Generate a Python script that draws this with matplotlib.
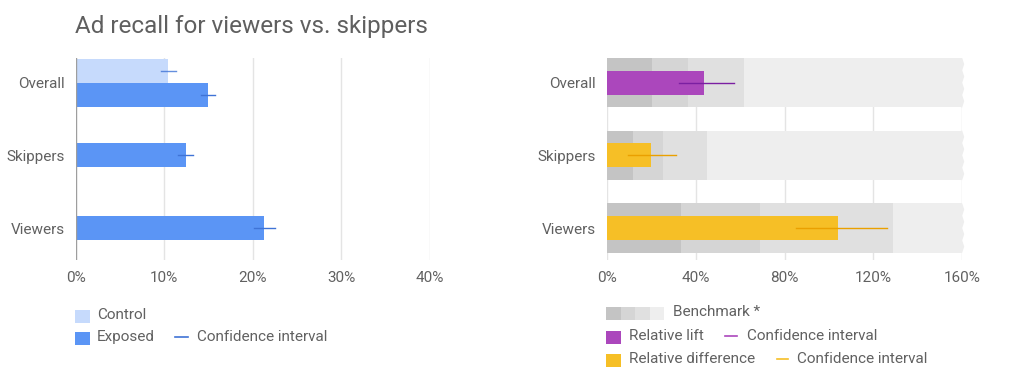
import matplotlib
matplotlib.use("Agg")
import matplotlib.pyplot as plt
from matplotlib.patches import Rectangle, Polygon
from matplotlib.lines import Line2D

plt.rcParams['font.family'] = ['Roboto', 'DejaVu Sans']

# data
categories = ["Overall", "Skippers", "Viewers"]

control = [10.4, None, None]
control_ci = [(9.6, 11.3), None, None]
exposed = [14.9, 12.45, 21.3]
exposed_ci = [(14.2, 15.7), (11.6, 13.2), (20.1, 22.5)]

# benchmark band edges (%) per category, darkest to lightest
bench = [
    [20.3, 36.6, 61.9, 160],
    [11.9, 25.4, 45.2, 160],
    [33.3, 69.0, 128.7, 160],
]
rel_value = [43.8, 19.8, 104.3]
rel_ci = [(32.6, 57.3), (9.3, 31.0), (85.3, 126.0)]
rel_kind = ["lift", "diff", "diff"]

left_ticks = [0, 10, 20, 30, 40]
right_ticks = [0, 40, 80, 120, 160]

# style
W, H = 1023, 385
TEXT = "#616161"
C_CONTROL = "#c6dafc"
C_EXPOSED = "#5b95f5"
C_CI_BLUE = "#3f73d6"
C_LIFT = "#ab47bc"
C_LIFT_CI = "#7b1fa2"
C_DIFF = "#f6bf26"
C_DIFF_CI = "#eaa000"
BAND_COLORS = ["#c4c4c4", "#d5d5d5", "#e0e0e0", "#eeeeee"]
GRID = "#e4e4e4"
FS = 11


def ax_rect(x0, x1, y0, y1):
    return [x0 / W, 1 - y1 / H, (x1 - x0) / W, (y1 - y0) / H]


fig = plt.figure(figsize=(W / 100, H / 100), dpi=100)

ylim = (2.44, -0.34)
ypos = list(range(len(categories)))

# ---- left chart
ax1 = fig.add_axes(ax_rect(75.7, 430, 58, 260))
for t in left_ticks[1:]:
    ax1.axvline(t, color=GRID, lw=1, zorder=0)
ax1.axvline(0, color="#9e9e9e", lw=1, zorder=3)

bh = 0.33
for i, y in enumerate(ypos):
    if control[i] is not None:
        yc, ye = y - bh / 2, y + bh / 2
        ax1.barh(yc, control[i], height=bh, color=C_CONTROL, zorder=2)
        lo, hi = control_ci[i]
        ax1.plot([lo, hi], [yc, yc], color=C_CI_BLUE, lw=1, zorder=4, alpha=0.8)
    else:
        ye = y
    ax1.barh(ye, exposed[i], height=bh, color=C_EXPOSED, zorder=2)
    lo, hi = exposed_ci[i]
    ax1.plot([lo, hi], [ye, ye], color=C_CI_BLUE, lw=1, zorder=4)

ax1.set_xlim(0, 40)
ax1.set_ylim(*ylim)
ax1.set_yticks(ypos)
ax1.set_yticklabels(categories)
ax1.set_xticks(left_ticks)
ax1.set_xticklabels([f"{t}%" for t in left_ticks])

# ---- right chart
ax2 = fig.add_axes(ax_rect(607, 962, 58, 260))
for t in right_ticks:
    ax2.axvline(t, color=GRID, lw=1, zorder=0)

band_h = 0.68
for i, y in enumerate(ypos):
    left = 0
    for j, edge in enumerate(bench[i]):
        ax2.barh(y, edge - left, left=left, height=band_h,
                 color=BAND_COLORS[j], zorder=1, lw=0)
        left = edge
    # torn edge on the right of the lightest band
    n = 8
    pts = []
    for k in range(n + 1):
        yy = y - band_h / 2 + band_h * k / n
        pts.append((bench[i][-1] + (1.0 if k % 2 else 0.1), yy))
    pts = [(bench[i][-1] - 0.5, y - band_h / 2)] + pts + [(bench[i][-1] - 0.5, y + band_h / 2)]
    ax2.add_patch(Polygon(pts, closed=True, color=BAND_COLORS[-1], lw=0,
                          zorder=1, clip_on=False))

    col = C_LIFT if rel_kind[i] == "lift" else C_DIFF
    cic = C_LIFT_CI if rel_kind[i] == "lift" else C_DIFF_CI
    ax2.barh(y, rel_value[i], height=bh, color=col, zorder=2, lw=0)
    lo, hi = rel_ci[i]
    ax2.plot([lo, hi], [y, y], color=cic, lw=1, zorder=4)

ax2.set_xlim(0, 160)
ax2.set_ylim(*ylim)
ax2.set_yticks(ypos)
ax2.set_yticklabels(categories)
ax2.set_xticks(right_ticks)
ax2.set_xticklabels([f"{t}%" for t in right_ticks])

for ax in (ax1, ax2):
    for s in ax.spines.values():
        s.set_visible(False)
    ax.tick_params(length=0, labelsize=FS, colors=TEXT)
    ax.tick_params(axis="y", pad=8)
    ax.tick_params(axis="x", pad=8)

# ---- title
fig.text(75 / W, 1 - 26 / H, "Ad recall for viewers vs. skippers",
         fontsize=17.5, color="#5f5f5f", va="center", ha="left")

# ---- legends (figure pixel coords)
def square(x, yc, w, h, color):
    fig.patches.append(Rectangle((x / W, 1 - (yc + h / 2) / H), w / W, h / H,
                                 transform=fig.transFigure, color=color,
                                 figure=fig, lw=0))


def dash(x0, x1, yc, color):
    fig.lines.append(Line2D([x0 / W, x1 / W], [1 - yc / H, 1 - yc / H],
                            transform=fig.transFigure, color=color, lw=1.2,
                            figure=fig))


def label(x, yc, s):
    fig.text(x / W, 1 - yc / H, s, fontsize=FS, color=TEXT,
             va="center", ha="left")


square(75, 316, 15, 13, C_CONTROL)
label(97, 315, "Control")
square(75, 338, 15, 13, C_EXPOSED)
label(97, 337, "Exposed")
dash(175, 188, 337, C_CI_BLUE)
label(197, 337, "Confidence interval")

for j, c in enumerate(BAND_COLORS):
    square(606 + j * 14.5, 313.5, 14.5, 13, c)
label(673, 312, "Benchmark *")
square(606, 337.5, 15, 13, C_LIFT)
label(629, 336, "Relative lift")
dash(725, 737, 336, C_LIFT)
label(747, 336, "Confidence interval")
square(606, 360.5, 15, 13, C_DIFF)
label(629, 359, "Relative difference")
dash(777, 788, 359, C_DIFF)
label(797, 359, "Confidence interval")

fig.savefig("out.png", dpi=100, facecolor="white")
